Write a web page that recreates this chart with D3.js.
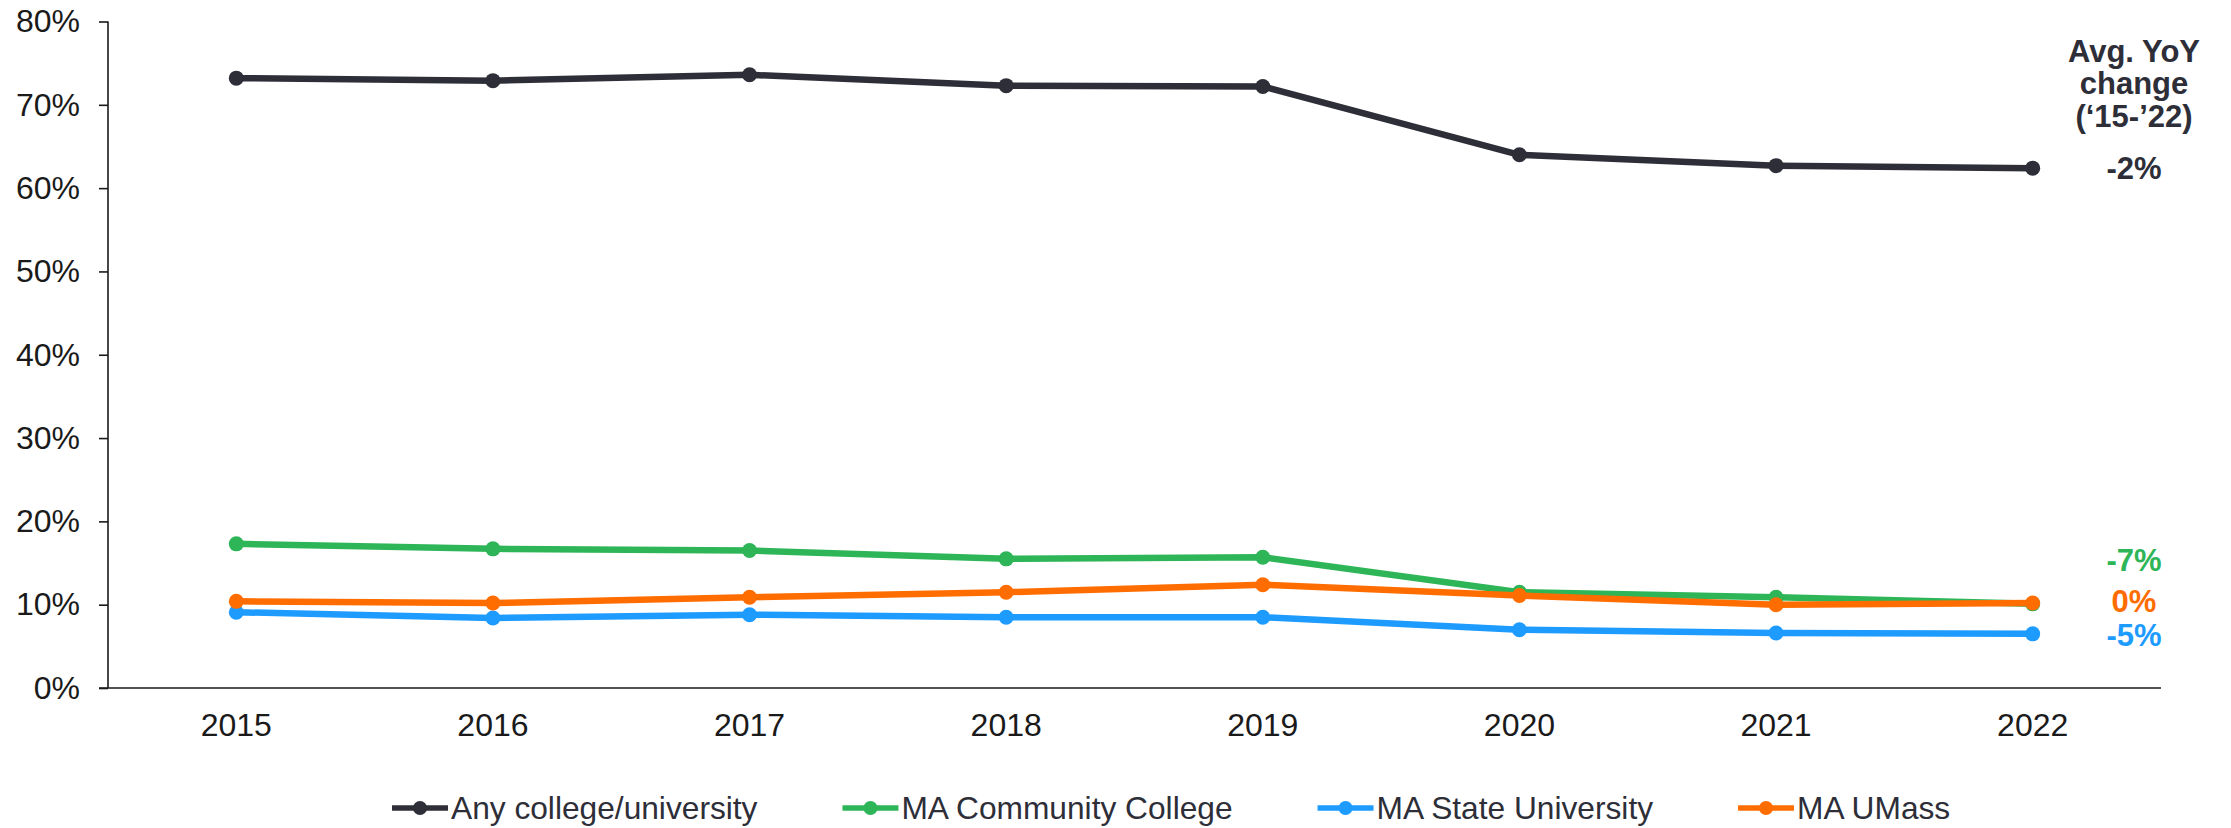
<!DOCTYPE html>
<html>
<head>
<meta charset="utf-8">
<script src="https://cdn.jsdelivr.net/npm/d3@7/dist/d3.min.js"></script>
<style>
  html, body { margin: 0; padding: 0; background: #ffffff; }
  svg { display: block; font-family: "Liberation Sans", Arial, Helvetica, sans-serif; }
</style>
</head>
<body>
<svg id="chart" width="2231" height="828"></svg>
<script>
// ---- Data ----
const years = ["2015", "2016", "2017", "2018", "2019", "2020", "2021", "2022"];
const anyCollege       = [73.2, 72.9, 73.6, 72.3, 72.2, 64.0, 62.7, 62.4];
const communityCollege = [17.3, 16.7, 16.5, 15.5, 15.7, 11.5, 10.9, 10.1];
const stateUniversity  = [9.1, 8.4, 8.8, 8.5, 8.5, 7.0, 6.6, 6.5];
const umass            = [10.4, 10.2, 10.9, 11.5, 12.4, 11.1, 10.0, 10.2];
const seriesNames = ["Any college/university", "MA Community College", "MA State University", "MA UMass"];
const avgYoY = ["-2%", "-7%", "-5%", "0%"];
const yTicks = [0, 10, 20, 30, 40, 50, 60, 70, 80];
const yoyHeader = ["Avg. YoY", "change", "(\u201815-\u201922)"];

// ---- Styles ----
const colors = ["#2d2e38", "#2db557", "#1e9bff", "#ff6d00"];
const textColor = "#2d2e38";
const values = [anyCollege, communityCollege, stateUniversity, umass];
const series = seriesNames.map((name, i) => ({ name, values: values[i], color: colors[i], yoy: avgYoY[i] }));

const svg = d3.select("#chart");
const pLeft = 108, pRight = 2161, pTop = 21.5, pBottom = 688;

const x = d3.scaleBand().domain(years).range([pLeft, pRight]).paddingInner(0).paddingOuter(0);
const y = d3.scaleLinear().domain([0, 80]).range([pBottom, pTop]);
const cx = d => x(d) + x.bandwidth() / 2;

// Y axis
const yAxis = svg.append("g").attr("transform", `translate(${pLeft},0)`)
  .call(d3.axisLeft(y).tickValues(yTicks).tickFormat(d => d + "%").tickSize(9).tickPadding(19));
yAxis.select(".domain").attr("stroke", "#1a1a1a").attr("stroke-width", 1.6).attr("d", `M0,${pTop}V${pBottom}`);
yAxis.selectAll(".tick line").attr("stroke", "#1a1a1a").attr("stroke-width", 1.6);
yAxis.selectAll(".tick text").attr("font-size", 32).attr("fill", "#1a1a1a")
  .attr("font-family", "Liberation Sans, Arial, sans-serif");

// X axis
const xAxis = svg.append("g").attr("transform", `translate(0,${pBottom})`)
  .call(d3.axisBottom(x).tickSize(0).tickPadding(25));
xAxis.select(".domain").attr("stroke", "#1a1a1a").attr("stroke-width", 1.6).attr("d", `M${pLeft - 9},0H${pRight}`);
xAxis.selectAll(".tick text").attr("font-size", 32).attr("fill", "#1a1a1a")
  .attr("font-family", "Liberation Sans, Arial, sans-serif");

// Lines
const line = d3.line().x((d, i) => cx(years[i])).y(d => y(d));
series.forEach(s => {
  const g = svg.append("g");
  g.append("path").attr("d", line(s.values)).attr("fill", "none")
    .attr("stroke", s.color).attr("stroke-width", 6.5).attr("stroke-linejoin", "round");
  g.selectAll("circle").data(s.values).enter().append("circle")
    .attr("cx", (d, i) => cx(years[i])).attr("cy", d => y(d)).attr("r", 7.5).attr("fill", s.color);
});

// Right-side YoY annotations
const labelX = 2134;
yoyHeader.forEach((t, i) => {
  svg.append("text").attr("x", labelX).attr("y", 51 + i * 32.5)
    .attr("text-anchor", "middle").attr("dominant-baseline", "central")
    .attr("font-size", 31).attr("font-weight", "bold").attr("fill", textColor).text(t);
});
const labelOffsets = [0, -43, 2, -2];
series.forEach((s, i) => {
  svg.append("text").attr("x", labelX).attr("y", y(s.values[s.values.length - 1]) + labelOffsets[i])
    .attr("text-anchor", "middle").attr("dominant-baseline", "central")
    .attr("font-size", 31).attr("font-weight", "bold").attr("fill", s.color).text(s.yoy);
});

// Legend
const legend = svg.append("g").attr("transform", "translate(0,808)");
let lx = 392;
series.forEach(s => {
  const g = legend.append("g").attr("transform", `translate(${lx},0)`);
  g.append("line").attr("x1", 0).attr("x2", 56).attr("y1", 0).attr("y2", 0)
    .attr("stroke", s.color).attr("stroke-width", 5.5);
  g.append("circle").attr("cx", 28).attr("cy", 0).attr("r", 7).attr("fill", s.color);
  const t = g.append("text").attr("x", 59).attr("y", 0).attr("dominant-baseline", "central")
    .attr("font-size", 31.7).attr("fill", textColor).text(s.name);
  const w = t.node().getComputedTextLength();
  lx += 59 + w + 85;
});
</script>
</body>
</html>
